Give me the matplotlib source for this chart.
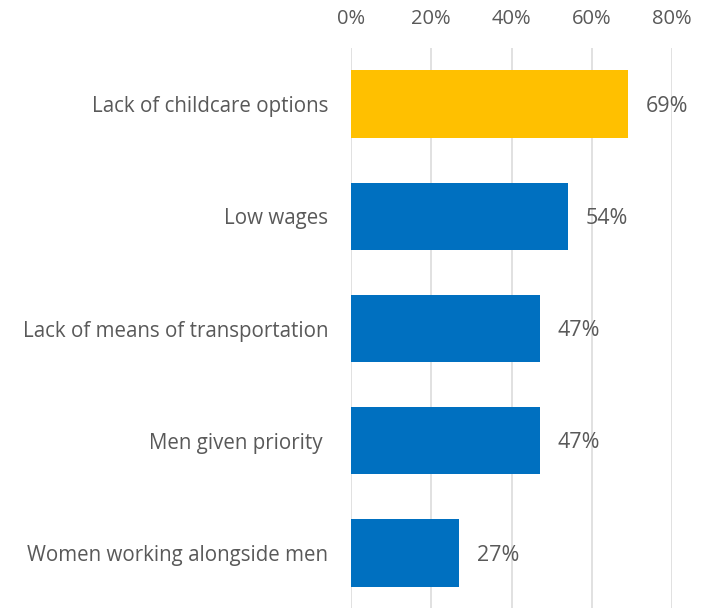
import matplotlib
matplotlib.use("Agg")
import matplotlib.pyplot as plt
from matplotlib.ticker import FuncFormatter

categories = ["Lack of childcare options", "Low wages", "Lack of means of transportation",
              "Men given priority ", "Women working alongside men"]
values = [0.69, 0.54, 0.47, 0.47, 0.27]
labels = ["69%", "54%", "47%", "47%", "27%"]
colors = ["#FFC000", "#0070C0", "#0070C0", "#0070C0", "#0070C0"]
xticks = [0, 0.2, 0.4, 0.6, 0.8]

plt.rcParams['font.family'] = ['Open Sans', 'DejaVu Sans']
txt = "#595959"

fig = plt.figure(figsize=(7.09, 6.08), dpi=100)
ax = fig.add_axes([351/709, -1/608, (672-351)/709, (609-48)/608])

y = list(range(len(categories)))
ax.barh(y, values, height=0.6, color=colors, zorder=2)
ax.set_ylim(len(categories) - 0.5, -0.5)
ax.set_xlim(0, 0.8)
ax.set_xticks(xticks)
ax.xaxis.set_major_formatter(FuncFormatter(lambda v, p: f"{v*100:.0f}%"))
ax.xaxis.tick_top()
ax.tick_params(axis='x', length=0, pad=14, labelsize=14.5, labelcolor=txt)
ax.set_yticks(y)
ax.set_yticklabels(categories)
ax.tick_params(axis='y', length=0, pad=16.5, labelsize=14.8, labelcolor=txt)
ax.grid(axis='x', color="#D9D9D9", linewidth=1.1, zorder=0)
for s in ax.spines.values():
    s.set_visible(False)
for yi, v, lab in zip(y, values, labels):
    ax.text(v + 0.045, yi + 0.02, lab, va='center', ha='left', fontsize=15.5, color=txt)

fig.savefig("out.png", dpi=100)
